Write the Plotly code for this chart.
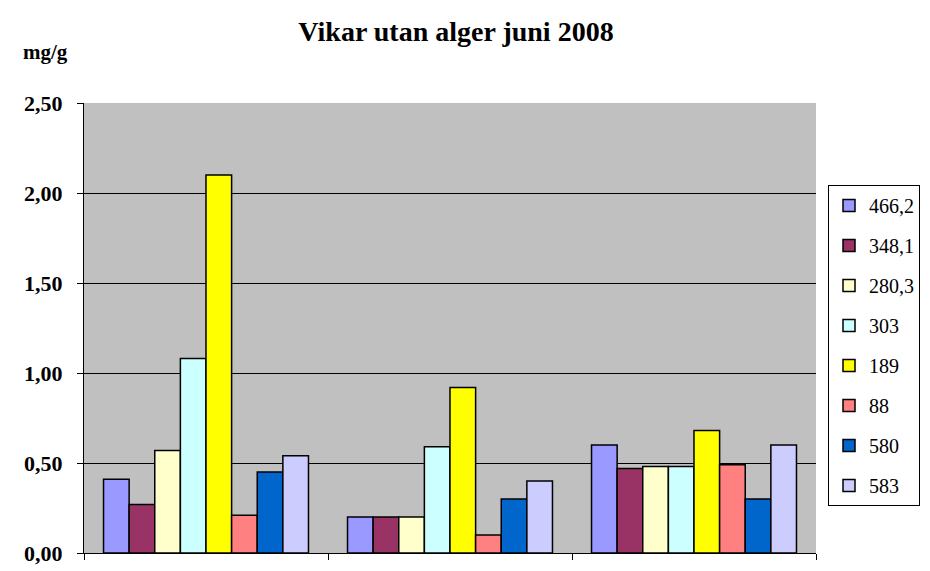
import plotly.graph_objects as go

# three sample groups (no category labels shown on the chart)
groups = ['1', '2', '3']
stations = ['466,2', '348,1', '280,3', '303', '189', '88', '580', '583']
colors = ['#9999FF', '#993366', '#FFFFCC', '#CCFFFF',
          '#FFFF00', '#FF8080', '#0066CC', '#CCCCFF']

# mg/g per station, one value for each group
values = {
    '466,2': [0.41, 0.20, 0.60],
    '348,1': [0.27, 0.20, 0.47],
    '280,3': [0.57, 0.20, 0.48],
    '303':   [1.08, 0.59, 0.48],
    '189':   [2.10, 0.92, 0.68],
    '88':    [0.21, 0.10, 0.49],
    '580':   [0.45, 0.30, 0.30],
    '583':   [0.54, 0.40, 0.60],
}

y_ticks = [0, 0.5, 1.0, 1.5, 2.0, 2.5]
grid_ticks = [0.5, 1.0, 1.5, 2.0]

font = 'Liberation Serif, Times New Roman, serif'

# the page body adds an 8px margin, so the figure is drawn 8px smaller
W, H = 922, 563

fig = go.Figure()
for name, color in zip(stations, colors):
    fig.add_trace(go.Bar(x=groups, y=values[name], name=name,
                         legendgroup=name,
                         marker=dict(color=color,
                                     line=dict(color='black', width=1.5))))

# invisible trace on a second axis, only to get gridlines without the top one
fig.add_trace(go.Scatter(x=groups, y=[0, 0, 0], yaxis='y2', mode='markers',
                         marker=dict(opacity=0), showlegend=False,
                         hoverinfo='skip'))

fig.update_layout(
    width=W, height=H,
    margin=dict(l=76, r=114, t=95, b=18, autoexpand=False),
    paper_bgcolor='white',
    plot_bgcolor='#C0C0C0',
    separators=', ',
    font=dict(family=font, color='black', size=18),
    title=dict(text='<b>Vikar utan alger juni 2008</b>',
               font=dict(family=font, size=28, color='black'),
               x=448 / W, xanchor='center', xref='container',
               y=1 - 23 / H, yanchor='middle', yref='container'),
    barmode='group',
    bargap=0.16,
    bargroupgap=0,
    xaxis=dict(showticklabels=False, showgrid=False, showline=True,
               linecolor='black', linewidth=1, ticks='outside',
               tickson='boundaries', ticklen=6, tickcolor='black'),
    yaxis=dict(range=[0, 2.5], tickvals=y_ticks, tickformat='.2f',
               showgrid=False, zeroline=False, showline=True,
               linecolor='black', linewidth=1, ticks='outside', ticklen=6,
               tickcolor='black', ticklabelstandoff=10,
               tickfont=dict(family=font, size=22, color='black',
                             weight='bold')),
    yaxis2=dict(range=[0, 2.5], overlaying='y', tickvals=grid_ticks,
                showticklabels=False, showgrid=True, gridcolor='black',
                gridwidth=1, zeroline=False, showline=False),
    legend=dict(x=(828 - 84) / 732, xanchor='left',
                y=(553 - 185) / 450, yanchor='top',
                bordercolor='black', borderwidth=1, bgcolor='white',
                tracegroupgap=11, itemwidth=30,
                font=dict(family=font, size=20, color='black')),
    annotations=[dict(text='<b>mg/g</b>', x=(45 - 84) / 732,
                      y=(553 - 52) / 450, xref='paper', yref='paper',
                      xanchor='center', yanchor='middle', showarrow=False,
                      font=dict(family=font, size=21, color='black'))],
)

fig.write_html('out.html')
